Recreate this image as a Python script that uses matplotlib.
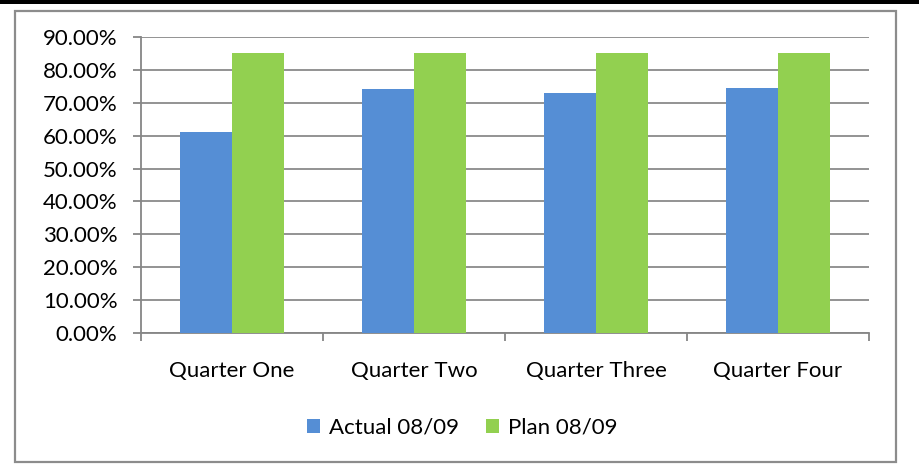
import matplotlib
matplotlib.use("Agg")
import matplotlib.pyplot as plt
from matplotlib.patches import Rectangle
from matplotlib.ticker import FuncFormatter, MultipleLocator
import numpy as np

quarters = ["Quarter One", "Quarter Two", "Quarter Three", "Quarter Four"]
actual = [61.2, 74.2, 73.0, 74.5]
plan = [85.0, 85.0, 85.0, 85.0]
series_names = ["Actual 08/09", "Plan 08/09"]
colors = ["#558ED5", "#92D050"]

plt.rcParams["font.family"] = ["Lato", "DejaVu Sans"]

W, H = 919, 468
fig = plt.figure(figsize=(W / 100, H / 100), dpi=100)

# outer chart frame and top rule
fig.patches.append(Rectangle((15 / W, 1 - 462 / H), (896 - 15) / W, (462 - 11) / H,
                             transform=fig.transFigure, fill=False,
                             edgecolor="#8c8c8c", linewidth=1.6))
fig.patches.append(Rectangle((0, 1 - 4 / H), 1, 4 / H, transform=fig.transFigure,
                             facecolor="black", edgecolor="none"))

ax = fig.add_axes([141 / W, 1 - 333 / H, (869 - 141) / W, (333 - 37) / H])

x = np.arange(len(quarters))
bw = 0.285
ax.bar(x - bw / 2, actual, bw, color=colors[0], label=series_names[0], zorder=3)
ax.bar(x + bw / 2, plan, bw, color=colors[1], label=series_names[1], zorder=3)

ax.set_xlim(-0.5, len(quarters) - 0.5)
ax.set_ylim(0, 90)
ax.yaxis.set_major_locator(MultipleLocator(10))
ax.yaxis.set_major_formatter(FuncFormatter(lambda v, p: f"{v:.2f}%"))
ax.grid(axis="y", color="#8a8a8a", linewidth=1.3, zorder=0)

fs = 16
ax.set_xticks(x)
ax.set_xticklabels(quarters)
ax.set_xticks(np.arange(len(quarters) + 1) - 0.5, minor=True)
ax.tick_params(axis="x", which="major", length=0, pad=20, labelsize=fs)
ax.tick_params(axis="x", which="minor", length=6, width=1.3, color="#868686")
ax.tick_params(axis="y", length=6, width=1.3, color="#868686", labelsize=fs, pad=11)

for side in ["top", "right"]:
    ax.spines[side].set_visible(False)
for side in ["left", "bottom"]:
    ax.spines[side].set_color("#868686")
    ax.spines[side].set_linewidth(1.3)

fig.legend(loc="center", bbox_to_anchor=(0.503, 1 - 428 / H), ncol=2, frameon=False,
           fontsize=fs, handlelength=0.6, handleheight=0.6, handletextpad=0.4,
           columnspacing=1.2)

fig.savefig("out.png", dpi=100)
